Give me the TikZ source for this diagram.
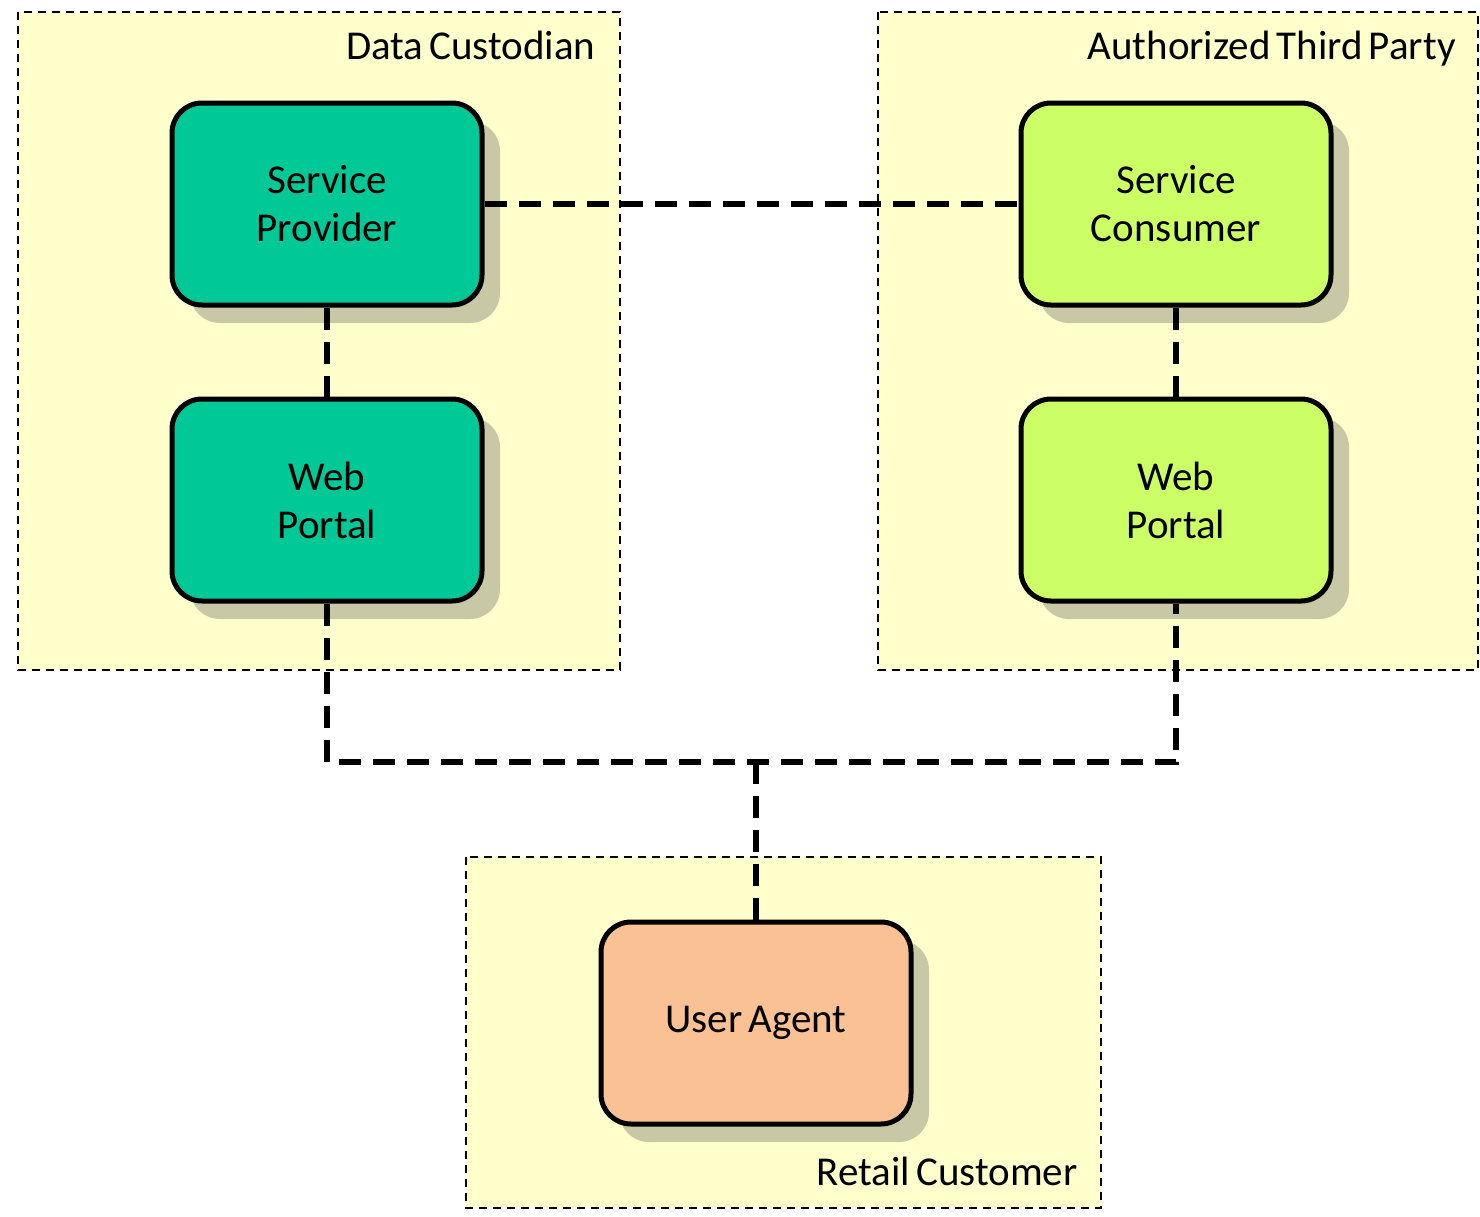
\documentclass[tikz,border=0pt]{standalone}
\usepackage{fontspec}
\setmainfont{Carlito}
\usetikzlibrary{shadows}
\definecolor{zonefill}{HTML}{FFFFCC}
\definecolor{teal1}{HTML}{00C896}
\definecolor{lime1}{HTML}{CCFF66}
\definecolor{peach1}{HTML}{FAC194}
\definecolor{shadowc}{HTML}{C8C7A6}
\newcommand{\mytight}{\spaceskip=0.15em plus 0.05em\relax}
\begin{document}
\begin{tikzpicture}[x=0.5pt,y=-0.5pt,
  zone/.style={draw=black, fill=zonefill, line width=1pt, dash pattern=on 4pt off 3pt},
  zonelabel/.style={font=\fontsize{20.5}{24}\selectfont\mytight, anchor=base east, inner sep=0pt},
  box/.style={draw=black, line width=2.5pt, rounded corners=15pt, minimum width=155pt, minimum height=101pt,
    align=center, font=\fontsize{20.5}{24}\selectfont\mytight,
    drop shadow={shadow xshift=9pt, shadow yshift=-9pt, fill=shadowc, opacity=1}},
  link/.style={draw=black, line width=2.7pt, dash pattern=on 11pt off 6pt}]
\useasboundingbox (0,0) rectangle (1480,1217);
\fill[white] (0,0) rectangle (1480,1217);
% zones
\draw[zone] (18,12) rectangle (620,670);
\draw[zone] (878,12) rectangle (1478,670);
\draw[zone] (466,857) rectangle (1101,1208);
\node[zonelabel] (lz1) at (596,59) {Data Custodian};
\node[zonelabel] (lz2) at (1456,59) {Authorized Third Party};
\node[zonelabel] (lz3) at (1078,1185) {Retail Customer};
% nodes
\node[box, fill=teal1] (sp) at (327,204) {Service\\Provider};
\node[box, fill=teal1] (wpl) at (327,500) {Web\\Portal};
\node[box, fill=lime1] (sc) at (1176,204) {Service\\Consumer};
\node[box, fill=lime1] (wpr) at (1176,500) {Web\\Portal};
\node[box, fill=peach1] (ua) at (756,1023) {User Agent};
\coordinate (join) at (756,762);
% connectors
\draw[link] (sp.east) -- (sc.west);
\draw[link] (sp.south) -- (wpl.north);
\draw[link] (sc.south) -- (wpr.north);
\draw[link] (wpl.south) |- (join) -| (wpr.south);
\draw[link] (join) -- (ua.north);
\end{tikzpicture}
\end{document}
